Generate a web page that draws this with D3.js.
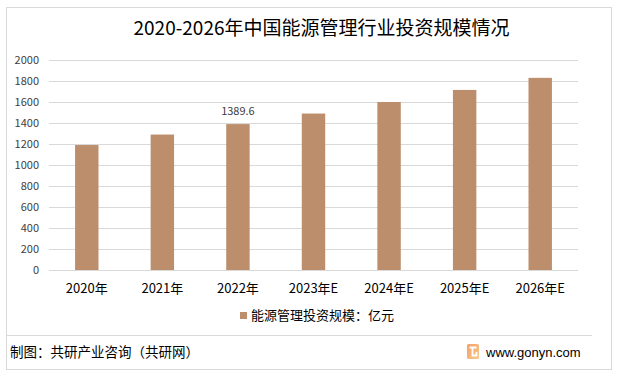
<!DOCTYPE html>
<html>
<head>
<meta charset="utf-8">
<script src="https://cdn.jsdelivr.net/npm/d3@7/dist/d3.min.js"></script>
<style>
html,body{margin:0;padding:0;background:#fff;}
svg{display:block;}
</style>
</head>
<body>
<svg id="chart" width="618" height="379"></svg>
<script>
const categories = ["2020年","2021年","2022年","2023年E","2024年E","2025年E","2026年E"];
const values = [1190, 1290, 1389.6, 1490, 1600, 1715, 1830];
const yTicks = [0,200,400,600,800,1000,1200,1400,1600,1800,2000];
const labeledCategory = "2022年";
const titleText = "2020-2026年中国能源管理行业投资规模情况";
const legendText = "能源管理投资规模：亿元";
const sourceText = "制图：共研产业咨询（共研网）";
const siteText = "www.gonyn.com";

const FONT = "'Noto Sans CJK SC','Noto Sans',sans-serif";
const svg = d3.select("#chart");

// outer frame
svg.append("rect").attr("x",6.5).attr("y",7.5).attr("width",605).attr("height",362)
  .attr("fill","none").attr("stroke","#d9d9d9").attr("stroke-width",1);

// title
svg.append("text").attr("x",321.5).attr("y",35).attr("text-anchor","middle")
  .style("font-family",FONT).style("font-size","19px").attr("fill","#000")
  .text(titleText);

const x = d3.scaleBand().domain(categories).range([49,578]).paddingInner(0.69).paddingOuter(0.345);
const y = d3.scaleLinear().domain([0,2000]).range([270,60]);

// gridlines
svg.append("g").selectAll("line").data(yTicks).join("line")
  .attr("x1",49).attr("x2",578)
  .attr("y1",d=>Math.round(y(d))+0.5).attr("y2",d=>Math.round(y(d))+0.5)
  .attr("stroke","#d9d9d9").attr("stroke-width",1);

// y axis labels
const yAxis = d3.axisLeft(y).tickValues(yTicks).tickSize(0).tickPadding(0).tickFormat(d3.format("d"));
const yg = svg.append("g").attr("transform","translate(39,0)").call(yAxis);
yg.select(".domain").remove();
yg.selectAll("text").style("font-family",FONT).style("font-size","11px").attr("fill","#404040");

// bars
svg.append("g").selectAll("rect").data(categories).join("rect")
  .attr("x",d=>x(d)).attr("width",x.bandwidth())
  .attr("y",(d,i)=>y(values[i])).attr("height",(d,i)=>y(0)-y(values[i]))
  .attr("fill","#bc8e6b");

// data label
const li = categories.indexOf(labeledCategory);
svg.append("text").attr("x",x(labeledCategory)+x.bandwidth()/2).attr("y",y(values[li])-9)
  .attr("text-anchor","middle").style("font-family",FONT).style("font-size","11px").attr("fill","#404040")
  .text(values[li]);

// x axis labels
const xAxis = d3.axisBottom(x).tickSize(0).tickPadding(0);
const xg = svg.append("g").attr("transform","translate(0,284)").call(xAxis);
xg.select(".domain").remove();
xg.selectAll("text").style("font-family",FONT).style("font-size","13px").attr("fill","#000");

// legend
svg.append("rect").attr("x",240).attr("y",312).attr("width",7).attr("height",7).attr("fill","#bc8e6b");
svg.append("text").attr("x",251).attr("y",315).attr("dy","0.35em")
  .style("font-family",FONT).style("font-size","13px").attr("fill","#000").text(legendText);

// separator
svg.append("line").attr("x1",7).attr("x2",592).attr("y1",335.5).attr("y2",335.5)
  .attr("stroke","#d9d9d9").attr("stroke-width",1);

// footer
svg.append("text").attr("x",10).attr("y",352).attr("dy","0.35em")
  .style("font-family",FONT).style("font-size","13.5px").attr("fill","#000").text(sourceText);

// logo
const defs = svg.append("defs");
const grad = defs.append("linearGradient").attr("id","lg").attr("x1","0").attr("y1","0").attr("x2","1").attr("y2","1");
grad.append("stop").attr("offset","0").attr("stop-color","#f5a06a");
grad.append("stop").attr("offset","1").attr("stop-color","#f7c98a");
const logo = svg.append("g").attr("transform","translate(467,344)");
logo.append("rect").attr("width",12).attr("height",15).attr("rx",1.5).attr("fill","url(#lg)");
logo.append("path").attr("d","M2.5,3.5 H9.5 M5.5,3.5 V11.5 H9.5 V8").attr("fill","none")
  .attr("stroke","#fff").attr("stroke-width",1.8);

svg.append("text").attr("x",486).attr("y",352).attr("dy","0.35em")
  .style("font-family","'Liberation Sans',Arial,sans-serif").style("font-size","13px").attr("fill","#000").text(siteText);
</script>
</body>
</html>
